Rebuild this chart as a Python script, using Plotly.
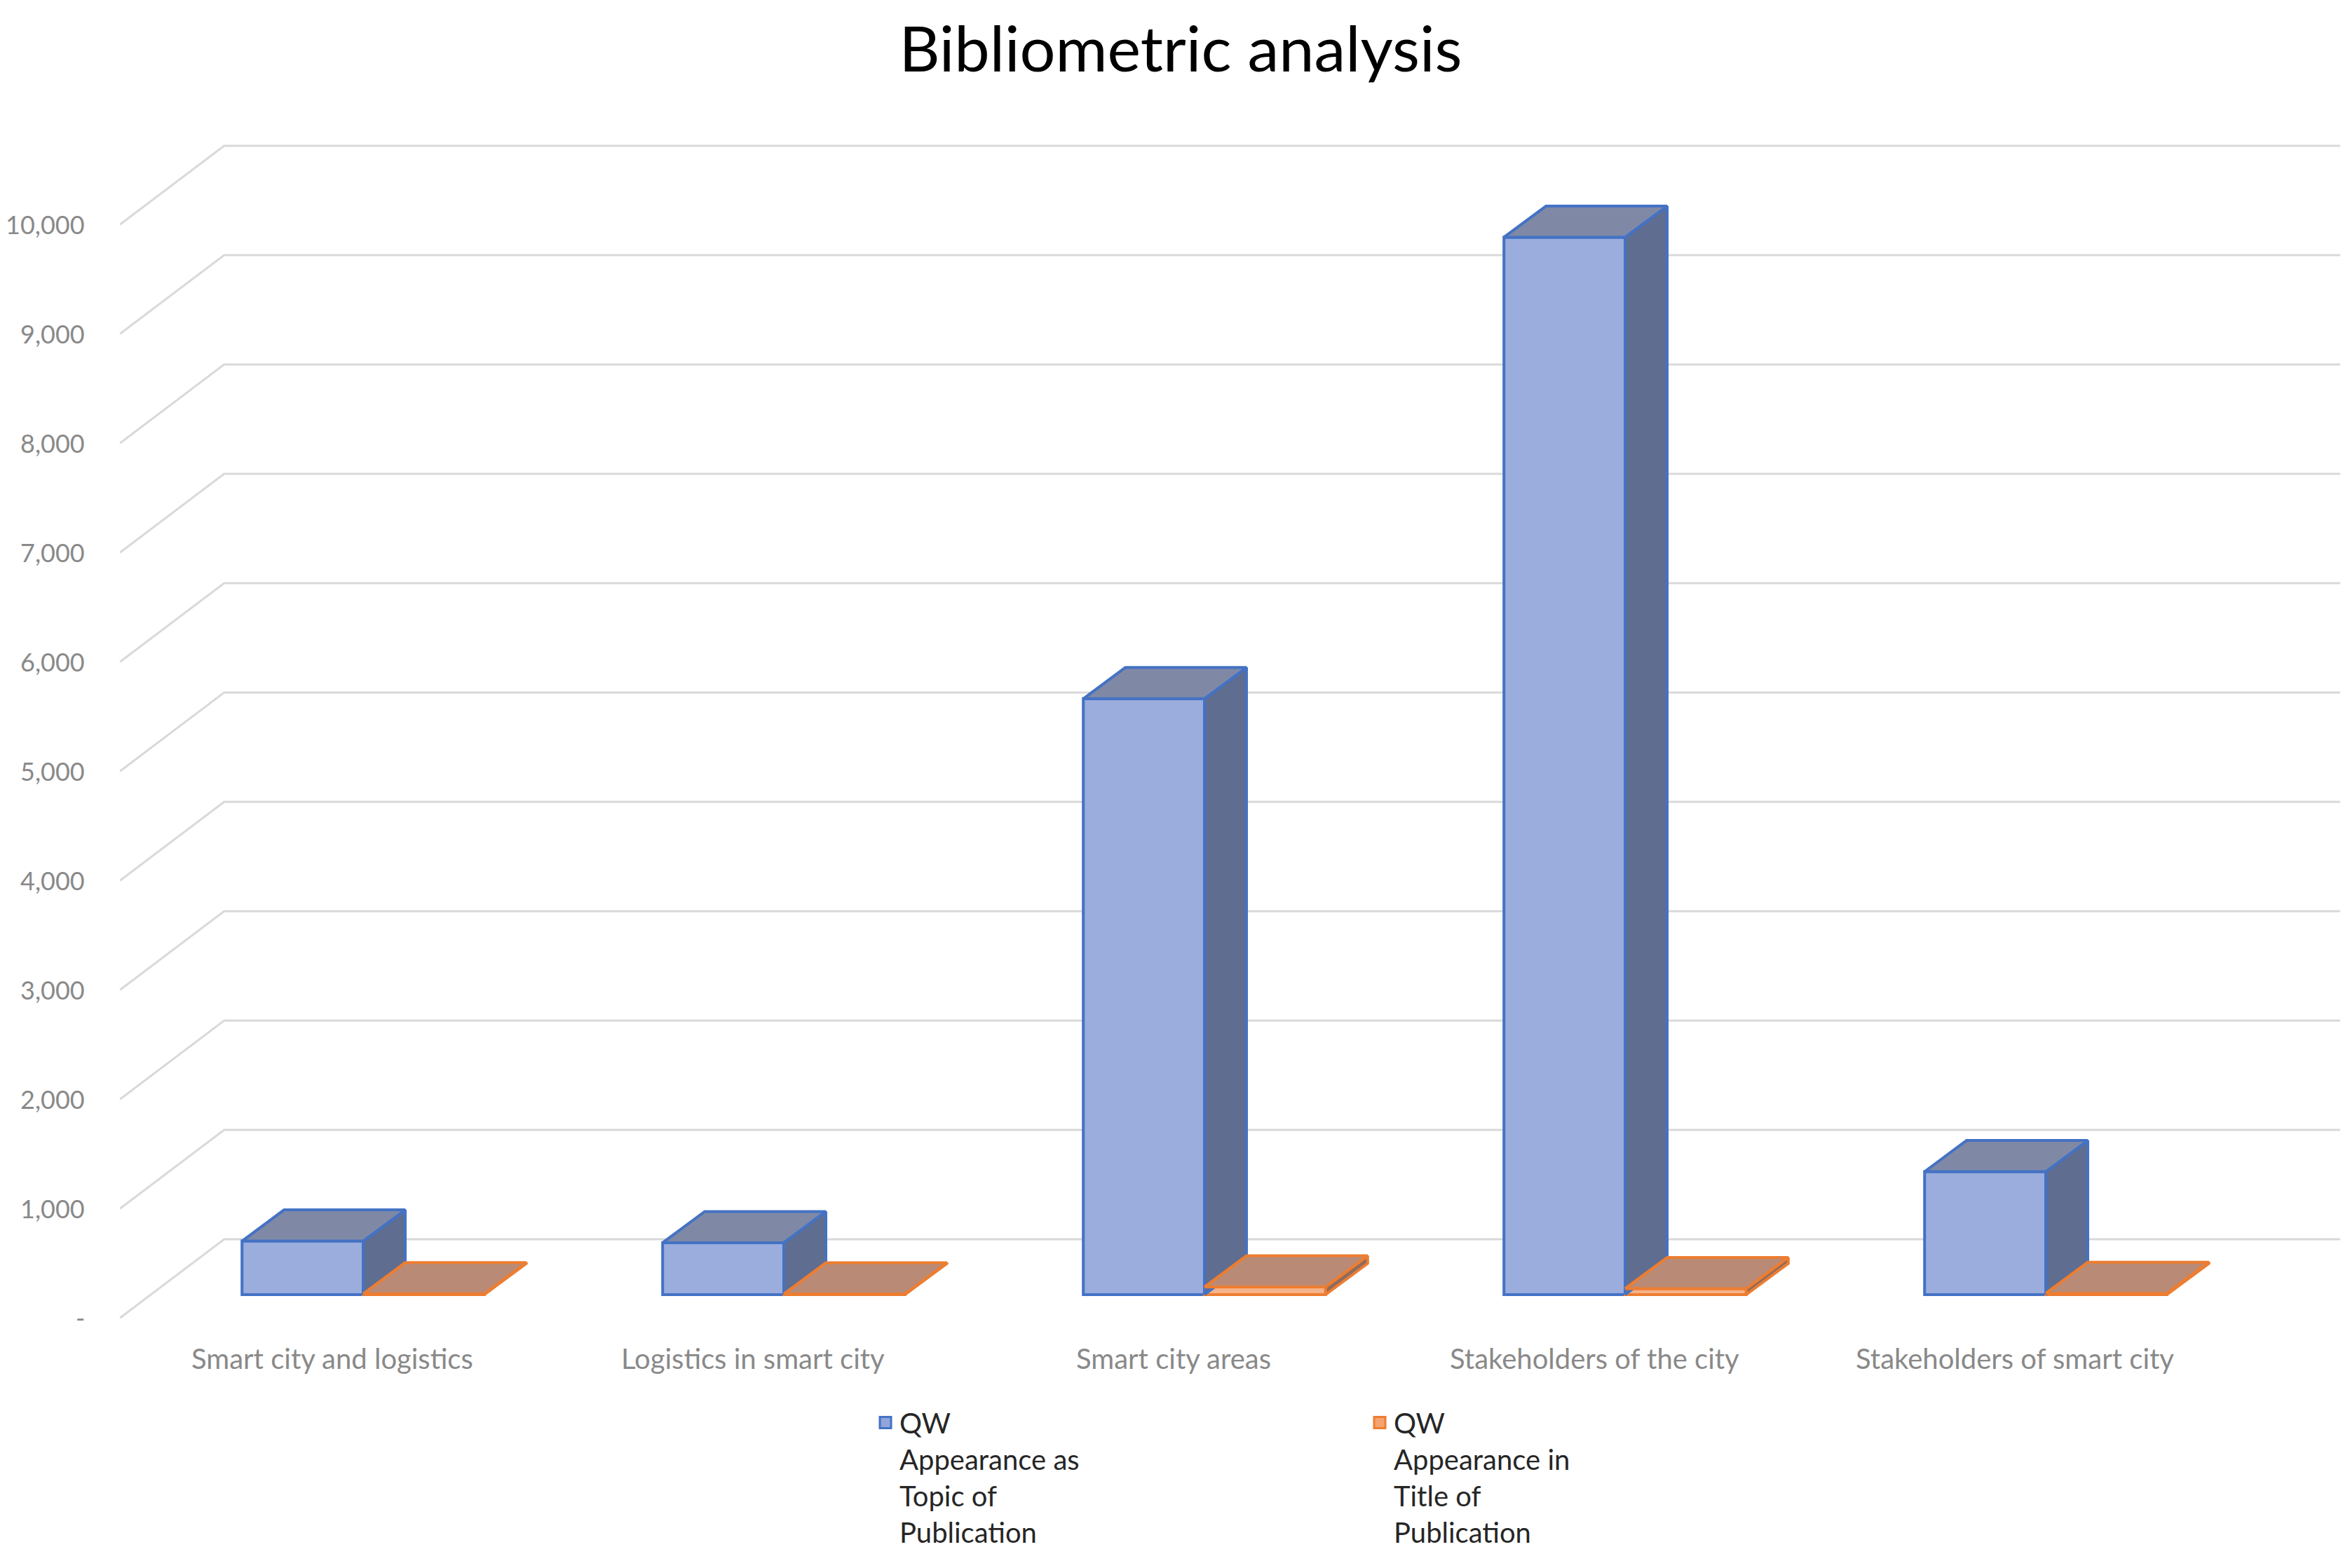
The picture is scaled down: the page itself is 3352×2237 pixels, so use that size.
import plotly.graph_objects as go

# ---------------- data ----------------
categories = [
    "Smart city and logistics",
    "Logistics in smart city",
    "Smart city areas",
    "Stakeholders of the city",
    "Stakeholders of smart city",
]
topic_values = [490, 475, 5450, 9670, 1125]      # QW Appearance as Topic of Publication
title_values = [8, 6, 70, 55, 12]                # QW Appearance in Title of Publication
series_names = [
    "QW<br>Appearance as<br>Topic of<br>Publication",
    "QW<br>Appearance in<br>Title of<br>Publication",
]
tick_values = [0, 1000, 2000, 3000, 4000, 5000, 6000, 7000, 8000, 9000, 10000]
tick_labels = ["-", "1,000", "2,000", "3,000", "4,000", "5,000",
               "6,000", "7,000", "8,000", "9,000", "10,000"]

# ---------------- geometry / style ----------------
W, H = 3352, 2237
PX_PER_X = 600.0          # pixels per category step
X0_PX = 510.0             # pixel of x = 0 (boundary between the two bars of a category)
PX_PER_Y = 0.156          # pixels per value unit
Y0_PX = 1839.0            # pixel row of value 0 (bar front plane)
x_range = [-X0_PX / PX_PER_X, (W - X0_PX) / PX_PER_X]
y_range = [-(H - Y0_PX) / PX_PER_Y, Y0_PX / PX_PER_Y]

BAR_W = 0.288             # width of one bar front face (x units)
DEPTH_X, DEPTH_Y = 0.100, 285   # oblique depth offset of each bar
WALL_X0, WALL_X1, WALL_DY = -0.3305, 4.70, 506   # back wall
SLANT_X, SLANT_DY = -0.578, -213                 # left wall front edge
LABEL_X = -0.658
CAT_LABEL_DX, CAT_LABEL_Y = -0.073, -585

FONT = "Lato"
GRID = "#d9d9d9"
AXIS_TXT = "#898989"

BLUE = dict(front="#9aaddd", top="#7f89a6", side="#5f6d90", line="#4472c4", legend="#8fa5db")
ORANGE = dict(front="#f6b288", top="#b98b76", side="#8e6c5d", line="#ed7d31", legend="#f4a470")

fig = go.Figure()

# front faces as real bars
for k, (vals, col, offs) in enumerate([(topic_values, BLUE, -BAR_W / 2),
                                        (title_values, ORANGE, BAR_W / 2)]):
    fig.add_trace(go.Bar(
        x=[i + offs for i in range(len(categories))],
        y=vals,
        width=BAR_W,
        name=series_names[k],
        marker=dict(color=col["front"], line=dict(color=col["line"], width=4)),
        showlegend=False,
        hoverinfo="skip",
    ))


def faces(vals, left_off):
    sx, sy, tx, ty = [], [], [], []
    for i, v in enumerate(vals):
        x0 = i + left_off
        x1 = x0 + BAR_W
        # side face
        sx += [x1, x1, x1 + DEPTH_X, x1 + DEPTH_X, x1, None]
        sy += [0, v, v + DEPTH_Y, DEPTH_Y, 0, None]
        # top face
        tx += [x0, x1, x1 + DEPTH_X, x0 + DEPTH_X, x0, None]
        ty += [v, v, v + DEPTH_Y, v + DEPTH_Y, v, None]
    return sx, sy, tx, ty


for vals, col, left in [(topic_values, BLUE, -BAR_W), (title_values, ORANGE, 0.0)]:
    sx, sy, tx, ty = faces(vals, left)
    fig.add_trace(go.Scatter(x=sx, y=sy, mode="lines", fill="toself",
                             fillcolor=col["side"], line=dict(color=col["line"], width=4),
                             showlegend=False, hoverinfo="skip"))
    fig.add_trace(go.Scatter(x=tx, y=ty, mode="lines", fill="toself",
                             fillcolor=col["top"], line=dict(color=col["line"], width=4),
                             showlegend=False, hoverinfo="skip"))

# legend entries
for k, col in enumerate([BLUE, ORANGE]):
    fig.add_trace(go.Scatter(x=[None], y=[None], mode="markers", name=series_names[k],
                             marker=dict(symbol="square", size=16, color=col["legend"],
                                         line=dict(color=col["line"], width=3)),
                             showlegend=True))

# back wall gridlines (below traces)
shapes = []
for v in tick_values:
    shapes.append(dict(
        type="path", xref="x", yref="y", layer="below",
        path=f"M {SLANT_X},{v + SLANT_DY} L {WALL_X0},{v + WALL_DY} L {WALL_X1},{v + WALL_DY}",
        line=dict(color=GRID, width=3),
    ))

annotations = []
for v, t in zip(tick_values, tick_labels):
    annotations.append(dict(x=LABEL_X, y=v + SLANT_DY, xref="x", yref="y", text=t,
                            showarrow=False, xanchor="right", yanchor="middle",
                            font=dict(family=FONT, size=36, color=AXIS_TXT)))
for i, c in enumerate(categories):
    annotations.append(dict(x=i + CAT_LABEL_DX, y=CAT_LABEL_Y, xref="x", yref="y", text=c,
                            showarrow=False, xanchor="center", yanchor="middle",
                            font=dict(family=FONT, size=40, color=AXIS_TXT)))

fig.update_layout(
    width=W, height=H,
    margin=dict(l=0, r=0, t=0, b=0),
    paper_bgcolor="white", plot_bgcolor="white",
    barmode="overlay",
    title=dict(text="Bibliometric analysis", x=0.5, xanchor="center",
               y=1 - 62 / H, yanchor="middle", yref="container",
               font=dict(family=FONT, size=90, color="#000000")),
    xaxis=dict(range=x_range, visible=False, domain=[0, 1], fixedrange=True),
    yaxis=dict(range=y_range, visible=False, domain=[0, 1], fixedrange=True),
    shapes=shapes,
    annotations=annotations,
    legend=dict(orientation="h", x=1235 / W, xanchor="left", y=1 - 1989 / H, yanchor="top",
                valign="top", entrywidth=660, traceorder="normal",
                font=dict(family=FONT, size=40, color="#262626"),
                bgcolor="rgba(0,0,0,0)"),
    showlegend=True,
)

fig.write_html("out.html")
